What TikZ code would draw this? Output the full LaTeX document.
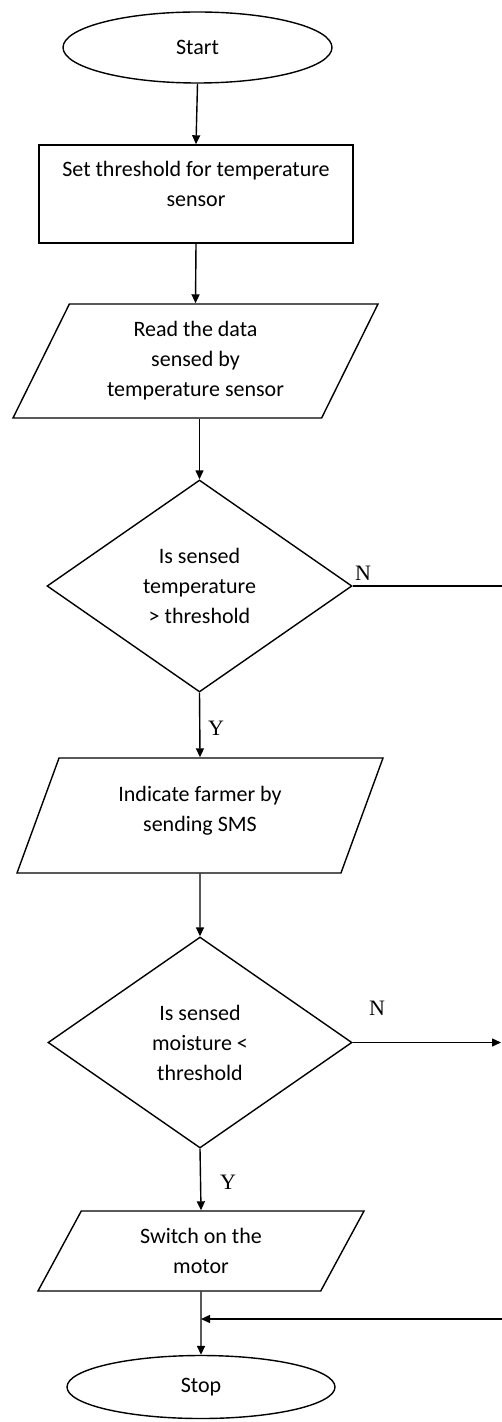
\documentclass[tikz,border=0pt]{standalone}
\usepackage{fontspec}
\setmainfont{Carlito}
\newfontfamily\yesnofont{Liberation Serif}
\usetikzlibrary{shapes.geometric,arrows.meta}

\begin{document}
\begin{tikzpicture}[x=0.5pt,y=-0.5pt,
    every node/.style={font=\fontsize{11}{15}\selectfont, align=center},
    flowline/.style={line width=0.7pt},
    flowarrow/.style={flowline,-{Triangle[length=4.5pt,width=4pt]}},
    terminal/.style={draw,flowline,ellipse,inner sep=0pt},
    process/.style={draw,flowline,rectangle,inner sep=2pt},
    iobox/.style={draw,flowline,trapezium,trapezium stretches body,inner sep=2pt},
    decision/.style={draw,flowline,diamond,inner sep=0pt},
    yesno/.style={font=\yesnofont\fontsize{11}{13}\selectfont}]
      \useasboundingbox (0,0) rectangle (502,1422);
      % Terminals and steps
      \node[terminal, minimum width=134.5pt, minimum height=35.5pt] (start) at (197.5,47.5) {Start};
      \node[process, minimum width=157pt, minimum height=49pt] (thresh) at (196,194) {Set threshold for temperature\\sensor\\[-5pt]\null};
      \node[iobox, trapezium left angle=57, trapezium right angle=123, minimum width=182.5pt, minimum height=57pt] (read) at (195.5,361) {Read the data\\sensed by\\temperature sensor};
      \node[decision, minimum width=152.5pt, minimum height=106pt] (tempchk) at (199.5,586) {Is sensed\\temperature\\> threshold};
      \node[iobox, trapezium left angle=58, trapezium right angle=122, minimum width=183pt, minimum height=57.5pt] (sms) at (200,815.5) {Indicate farmer by\\sending SMS\\[-8pt]\null};
      \node[decision, minimum width=152pt, minimum height=105.5pt] (moistchk) at (200,1042.5) {Is sensed\\moisture <\\threshold};
      \node[iobox, trapezium left angle=51, trapezium right angle=129, minimum width=163pt, minimum height=40pt] (motor) at (201,1251) {Switch on the\\motor};
      \node[terminal, minimum width=134pt, minimum height=31.5pt] (stop) at (201,1387) {Stop};
      % Branch labels
      \node[yesno] (n1) at (363,573) {N};
      \node[yesno] (y1) at (216,728) {Y};
      \node[yesno] (n2) at (377,1008) {N};
      \node[yesno] (y2) at (228,1182) {Y};
      % Loose ends on the right
      \coordinate (tempno) at (502,586);
      \coordinate (moistno) at (501,1042.5);
      \coordinate (backin) at (502,1319);
      \coordinate (merge) at (motor.south |- backin);
      % Main flow
      \draw[flowarrow] (start.south) -- (thresh.north);
      \draw[flowarrow] (thresh.south) -- (read.north);
      \draw[flowarrow] (read.south -| tempchk.north) -- (tempchk.north);
      \draw[flowarrow] (tempchk.south) -- (sms.north);
      \draw[flowarrow] (sms.south) -- (moistchk.north);
      \draw[flowarrow] (moistchk.south) -- (motor.north);
      \draw[flowarrow] (motor.south) -- (stop.north);
      % No branches
      \draw[flowline] (tempchk.east) -- (tempno);
      \draw[flowarrow] (moistchk.east) -- (moistno);
      \draw[flowarrow] (backin) -- (merge);
    \end{tikzpicture}
\end{document}
